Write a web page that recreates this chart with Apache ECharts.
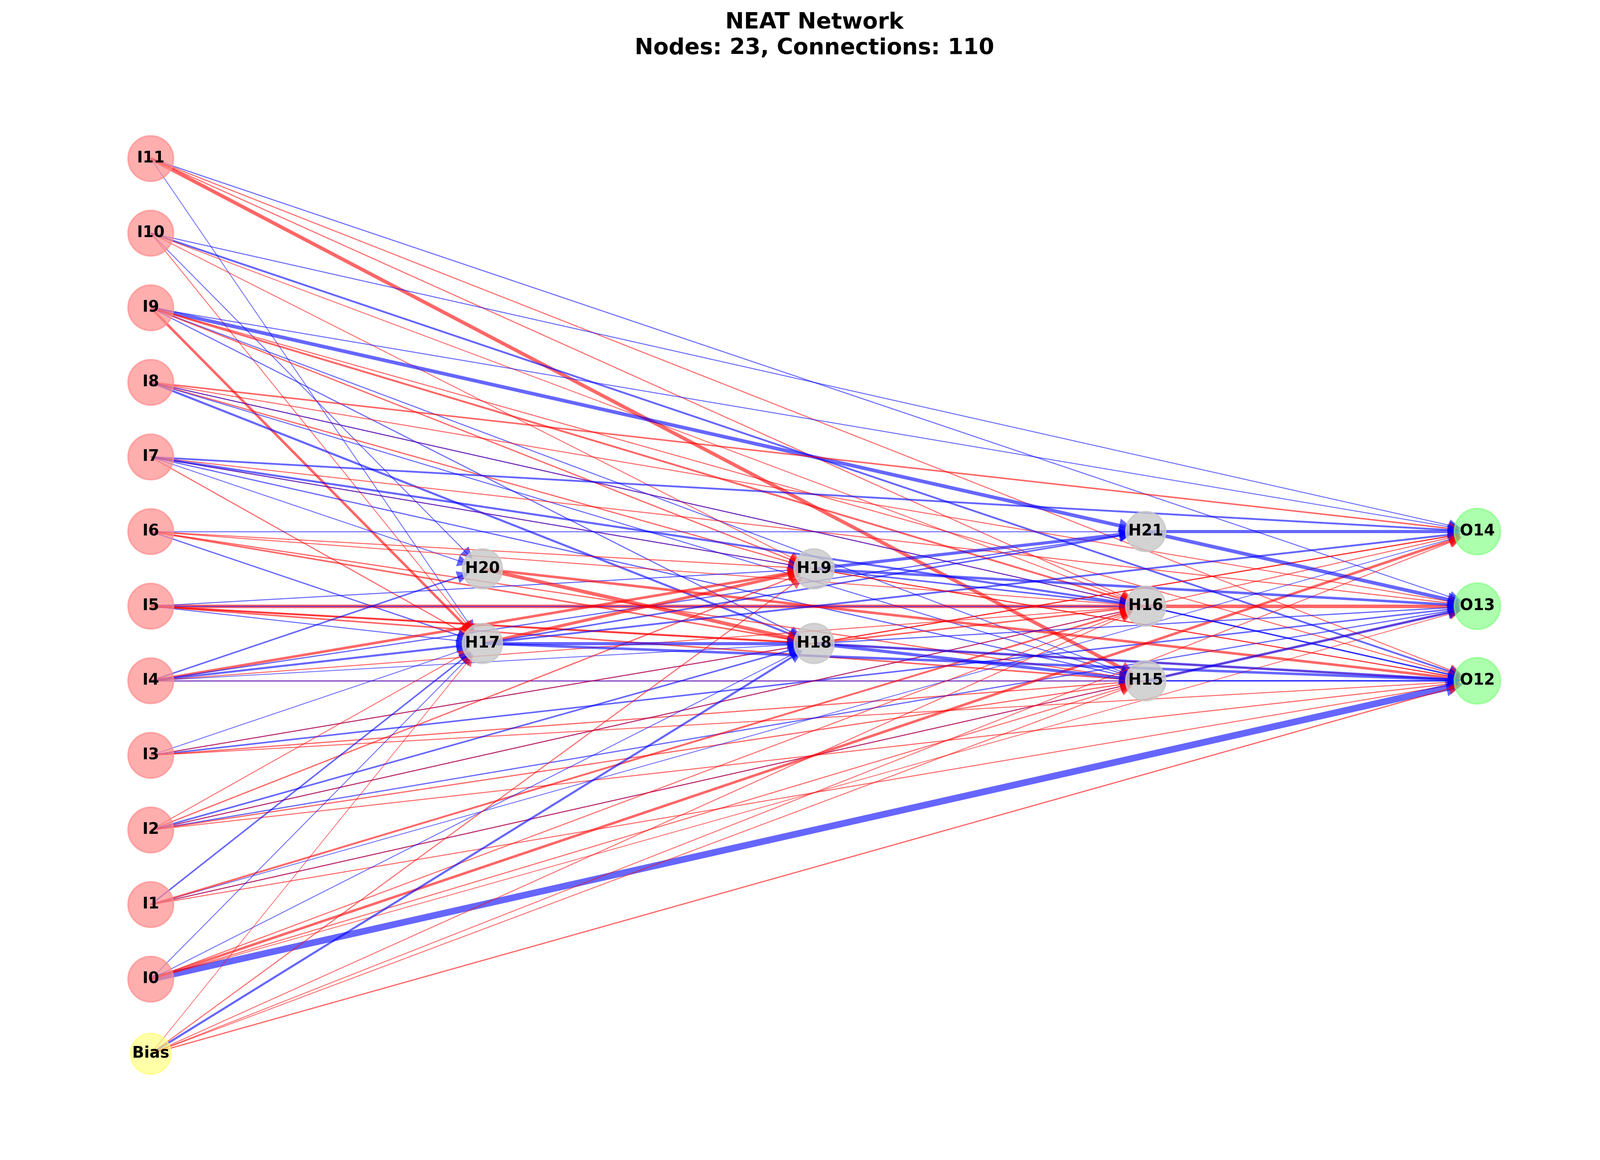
<!DOCTYPE html>
<html>
<head>
<meta charset="utf-8">
<script src="https://cdn.jsdelivr.net/npm/echarts@6/dist/echarts.min.js"></script>
<style>
html, body { margin: 0; padding: 0; background: #fff; }
#main { width: 4170px; height: 2970px; }
</style>
</head>
<body>
<div id="main"></div>
<script>
// nodes: name, layer (x), row (y), kind
var nodeNames = ['I11', 'I10', 'I9', 'I8', 'I7', 'I6', 'I5', 'I4', 'I3', 'I2', 'I1', 'I0', 'Bias',
	'H20', 'H17', 'H19', 'H18', 'H21', 'H16', 'H15', 'O14', 'O13', 'O12'];
var nodeLayer = [0, 0, 0, 0, 0, 0, 0, 0, 0, 0, 0, 0, 0, 1, 1, 2, 2, 3, 3, 3, 4, 4, 4];
var nodeRow = [12, 11, 10, 9, 8, 7, 6, 5, 4, 3, 2, 1, 0, 6.5, 5.5, 6.5, 5.5, 7, 6, 5, 7, 6, 5];
var nodeKind = ['in', 'in', 'in', 'in', 'in', 'in', 'in', 'in', 'in', 'in', 'in', 'in', 'bias',
	'hid', 'hid', 'hid', 'hid', 'hid', 'hid', 'hid', 'out', 'out', 'out'];

// connections (weight > 0 red, < 0 blue)
var edgeSource = [
	'I11', 'I11', 'I11', 'I11', 'I11',
	'I10', 'I10', 'I10', 'I10', 'I10', 'I10',
	'I9', 'I9', 'I9', 'I9', 'I9', 'I9', 'I9', 'I9',
	'I8', 'I8', 'I8', 'I8', 'I8', 'I8', 'I8',
	'I7', 'I7', 'I7', 'I7', 'I7', 'I7', 'I7', 'I7',
	'I6', 'I6', 'I6', 'I6', 'I6', 'I6',
	'I5', 'I5', 'I5', 'I5', 'I5', 'I5', 'I5',
	'I4', 'I4', 'I4', 'I4', 'I4', 'I4', 'I4', 'I4',
	'I3', 'I3', 'I3', 'I3', 'I3', 'I3',
	'I2', 'I2', 'I2', 'I2', 'I2', 'I2', 'I2', 'I2',
	'I1', 'I1', 'I1', 'I1', 'I1', 'I1',
	'I0', 'I0', 'I0', 'I0', 'I0', 'I0', 'I0',
	'Bias', 'Bias', 'Bias', 'Bias', 'Bias', 'Bias', 'Bias',
	'H20', 'H20',
	'H17', 'H17', 'H17', 'H17', 'H17',
	'H19', 'H19', 'H19', 'H19',
	'H18', 'H18', 'H18', 'H18', 'H18',
	'H21', 'H21',
	'H16',
	'H15', 'H15'
];
var edgeTarget = [
	'O13', 'O12', 'H16', 'H15', 'H17',
	'O14', 'O12', 'H16', 'H19', 'H17', 'H20',
	'H21', 'O14', 'H17', 'H16', 'O12', 'H18', 'H15', 'H19',
	'O14', 'O13', 'H16', 'O12', 'H18', 'H19', 'H15',
	'O14', 'O13', 'O12', 'H19', 'H16', 'H15', 'H20', 'H17',
	'H21', 'H19', 'H16', 'H15', 'H18', 'H17',
	'O13', 'H16', 'H19', 'H18', 'H15', 'H17', 'O12',
	'H15', 'O12', 'H20', 'H19', 'H21', 'H17', 'H16', 'H18',
	'H17', 'H18', 'O14', 'O13', 'H15', 'O12',
	'H17', 'H19', 'H18', 'H16', 'O14', 'O13', 'H15', 'O12',
	'H17', 'O14', 'H16', 'H15', 'O13', 'O12',
	'O12', 'H17', 'H18', 'O14', 'H16', 'H15', 'O13',
	'H17', 'H19', 'H18', 'H16', 'O14', 'H15', 'O12',
	'H18', 'O12',
	'H19', 'H18', 'O12', 'H21', 'O14',
	'H21', 'O13', 'H16', 'O12',
	'H15', 'O14', 'H16', 'O13', 'O12',
	'O14', 'O13',
	'O12',
	'O12', 'O13'
];
var edgeWeight = [
	-1.0, 1.0, 1.0, 3.5, -0.8,
	-0.9, -1.8, 0.9, 0.9, 0.8, -0.9,
	-3.5, -0.9, 2.5, 1.8, 1.0, -1.0, -1.0, 1.2,
	1.5, 1.0, 1.0, -1.0, -2.0, 1.2, -1.0,
	-1.8, 1.0, 1.0, -1.0, -2.0, -1.2, -0.9, 1.0,
	-1.0, 1.0, 1.0, 1.2, 1.5, -1.2,
	3.5, -1.0, -1.0, 2.0, 1.5, -1.0, 1.0,
	1.0, -1.0, -1.5, 2.5, -1.2, -2.0, 1.0, -0.8,
	-0.8, -1.0, 1.0, -1.5, 1.2, 1.0,
	0.8, 1.2, -1.5, -1.0, 1.0, -1.2, 1.2, 1.0,
	-1.5, -0.8, 1.8, -1.0, 1.0, 1.0,
	-6.5, -0.8, -0.8, 2.5, 1.0, 1.0, 0.8,
	0.7, 1.0, -2.0, 0.9, 0.9, 0.9, 1.2,
	3.5, 2.5,
	3.0, -3.0, -2.5, -1.5, -1.8,
	-3.0, -2.5, -1.5, 1.0,
	-3.0, 1.2, 1.5, -1.2, -2.5,
	-3.0, -3.5,
	-1.5,
	-1.5, -2.5
];

var kindColor = {
	'in': 'rgba(255,140,140,0.7)',
	'bias': 'rgba(255,255,120,0.65)',
	'hid': 'rgba(200,200,200,0.8)',
	'out': 'rgba(128,255,128,0.65)'
};
var kindSize = { 'in': 116, 'bias': 104, 'hid': 102, 'out': 118 };

var nodes = [];
for (var i = 0; i < nodeNames.length; i++) {
	nodes.push({
		name: nodeNames[i],
		value: [nodeLayer[i], nodeRow[i]],
		symbolSize: kindSize[nodeKind[i]],
		itemStyle: {
			color: kindColor[nodeKind[i]],
			borderColor: kindColor[nodeKind[i]],
			borderWidth: 4
		}
	});
}

var links = [];
for (var i = 0; i < edgeSource.length; i++) {
	var w = edgeWeight[i];
	var lw = Math.abs(w) * 2.6;
	links.push({
		source: edgeSource[i],
		target: edgeTarget[i],
		symbolSize: [0, 28 + lw],
		lineStyle: {
			color: w > 0 ? 'rgba(255,0,0,0.6)' : 'rgba(0,0,255,0.6)',
			width: lw,
			opacity: 1
		}
	});
}

var myChart = echarts.init(document.getElementById('main'));
var option = {
	backgroundColor: '#ffffff',
	animation: false,
	title: {
		text: 'NEAT Network\nNodes: 23, Connections: 110',
		left: 'center',
		top: 20,
		textStyle: {
			fontFamily: 'DejaVu Sans',
			fontWeight: 'bold',
			fontSize: 57,
			lineHeight: 66,
			color: '#000',
			align: 'center'
		}
	},
	grid: {
		left: 386,
		right: 388,
		top: 406,
		bottom: 272
	},
	xAxis: { type: 'value', min: 0, max: 4, show: false },
	yAxis: { type: 'value', min: 0, max: 12, show: false },
	series: [{
		type: 'graph',
		coordinateSystem: 'cartesian2d',
		layout: 'none',
		edgeSymbol: ['none', 'triangle'],
		edgeSymbolSize: [0, 28],
		lineStyle: { opacity: 1 },
		label: {
			show: true,
			position: 'inside',
			fontFamily: 'DejaVu Sans',
			fontWeight: 'bold',
			fontSize: 40,
			color: '#000'
		},
		emphasis: { disabled: true },
		data: nodes,
		links: links
	}]
};
myChart.setOption(option);
window.addEventListener('resize', function() {
	myChart.resize();
});
</script>
</body>
</html>
